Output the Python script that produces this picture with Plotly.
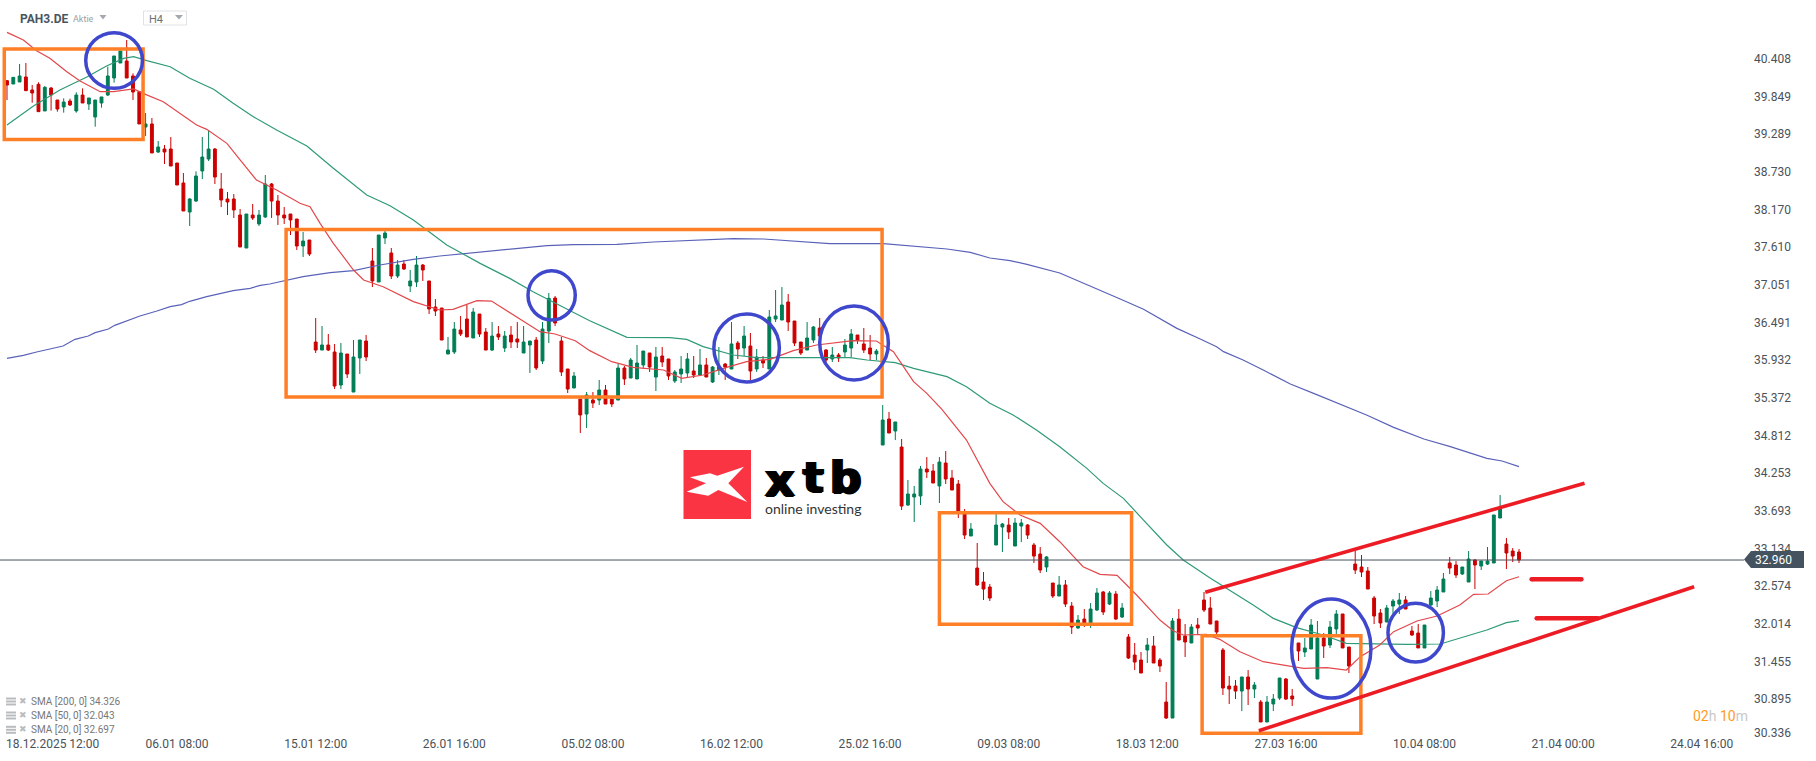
import plotly.graph_objects as go

# ---- candles (bar index = position in these lists) ----
highs = [40.092,40.132,40.33,40.345,40.018,40.058,40.003,39.988,39.795,39.82,
39.815,39.909,39.968,39.825,39.795,39.84,40.29,40.449,40.523,40.687,
40.191,39.919,39.602,39.528,39.186,39.126,39.245,38.859,38.71,38.339,
38.735,39.245,39.349,39.082,38.71,38.428,38.398,38.176,38.101,38.25,
38.161,38.681,38.562,38.383,38.205,38.101,38.027,37.834,37.715,36.556,
36.437,36.318,36.17,36.184,36.021,36.229,36.229,36.303,37.596,37.789,
37.849,37.596,37.418,37.418,37.269,37.477,37.358,37.106,36.838,36.704,
36.274,36.496,36.586,36.749,36.704,36.615,36.407,36.496,36.437,36.363,
36.437,36.496,36.437,36.214,36.274,36.496,36.927,36.883,36.274,35.798,
35.754,35.352,35.456,35.456,35.635,35.56,35.352,35.872,35.843,35.962,
36.155,36.065,36.036,36.125,36.125,35.947,35.783,35.991,36.036,35.991,
36.095,35.962,35.843,36.125,35.887,36.496,36.214,36.437,36.333,36.095,
35.991,36.675,36.972,37.016,36.913,36.511,36.199,36.496,36.437,36.556,
36.095,36.125,36.036,36.244,36.392,36.303,36.407,36.303,36.095,35.263,
35.159,35.011,34.758,34.149,34.06,34.357,34.49,34.386,34.49,34.58,
34.297,34.149,33.718,33.51,33.213,32.782,32.603,33.643,33.51,33.584,
33.584,33.569,33.495,33.213,33.153,33.019,32.618,32.722,32.663,32.336,
32.143,32.232,32.321,32.544,32.499,32.499,32.499,32.321,31.861,31.727,
31.593,31.801,31.831,31.504,31.147,32.098,32.232,32.009,32.009,32.098,
32.485,32.41,32.054,31.653,31.236,31.177,31.222,31.325,31.147,30.88,
30.939,30.969,31.207,31.207,31.043,31.727,31.801,32.083,32.054,31.875,
32.054,32.217,32.158,31.667,33.124,33.034,32.856,32.425,32.232,32.291,
32.381,32.47,32.425,31.979,32.009,31.994,32.499,32.574,32.767,33.005,
32.945,32.856,33.094,32.975,32.945,33.153,33.629,33.926,33.287,33.138,33.124]

lows = [39.795,40.033,40.063,39.934,39.755,39.622,39.632,39.637,39.622,39.607,
39.706,39.607,39.751,39.647,39.399,39.681,39.855,40.053,40.345,40.122,
39.795,39.439,39.26,39.008,39.008,38.844,38.814,38.532,38.146,37.923,
38.28,38.621,38.889,38.547,38.205,38.086,38.042,37.611,37.596,38.012,
37.923,38.042,38.042,37.938,37.953,37.789,37.566,37.462,37.477,36.036,
36.08,36.065,35.501,35.501,35.664,35.456,35.724,35.917,37.016,37.091,
37.655,37.135,37.15,37.269,36.942,37.016,37.106,36.615,36.586,36.229,
36.021,36.021,36.288,36.274,36.259,36.274,36.08,36.065,36.229,36.051,
36.11,36.11,36.036,35.739,35.783,35.872,36.184,36.437,35.694,35.441,
35.516,34.847,34.921,35.219,35.263,35.278,35.233,35.337,35.56,35.664,
35.65,35.798,35.754,35.471,35.828,35.635,35.59,35.59,35.679,35.664,
35.709,35.679,35.59,35.709,35.635,35.798,35.947,35.991,35.635,35.754,
35.813,35.798,36.496,36.526,36.363,36.14,36.006,36.08,36.184,36.11,
35.843,35.902,35.902,35.962,35.976,36.17,36.036,35.932,35.932,34.669,
34.847,34.743,33.703,33.762,33.525,33.777,34.178,34.104,33.807,34.089,
34.0,33.584,33.272,33.317,32.574,32.366,32.351,33.183,33.079,33.272,
33.168,33.227,33.272,32.916,32.767,32.782,32.395,32.425,32.262,31.861,
31.935,31.964,31.95,32.202,32.143,32.291,32.068,32.098,31.489,31.325,
31.281,31.43,31.43,31.296,30.598,30.612,31.771,31.519,31.727,31.861,
32.187,32.009,31.846,30.954,30.821,30.894,30.716,30.805,30.909,30.553,
30.553,30.716,30.88,30.88,30.791,31.459,31.519,31.638,31.192,31.504,
31.653,31.846,31.653,31.281,32.752,32.707,32.529,32.009,31.95,32.039,
32.128,32.158,32.232,31.831,31.653,31.653,32.276,32.262,32.485,32.752,
32.693,32.737,32.633,32.529,32.811,32.886,32.916,33.584,32.826,32.93,32.916]

body_tops = [40.082,40.132,40.152,40.137,39.944,40.028,39.983,39.973,39.795,39.765,
39.78,39.869,39.869,39.825,39.795,39.84,40.152,40.449,40.523,40.375,
40.152,39.919,39.439,39.439,39.097,39.067,39.067,38.859,38.562,38.324,
38.666,38.948,39.067,39.067,38.473,38.324,38.324,38.086,38.101,38.086,
38.086,38.547,38.547,38.294,38.086,38.101,38.027,37.7,37.715,36.199,
36.155,36.155,36.051,36.036,36.021,35.976,36.229,36.214,37.403,37.789,
37.819,37.522,37.343,37.358,37.106,37.343,37.343,37.106,36.719,36.704,
36.08,36.392,36.378,36.541,36.645,36.615,36.348,36.288,36.318,36.288,
36.303,36.244,36.199,36.214,36.229,36.392,36.848,36.853,36.214,35.798,
35.694,35.352,35.412,35.337,35.486,35.486,35.352,35.813,35.813,35.932,
35.887,36.065,36.036,35.976,35.991,35.947,35.754,35.798,35.947,35.768,
35.858,35.858,35.828,35.828,35.872,36.17,36.184,36.288,36.14,35.976,
35.932,36.571,36.586,36.749,36.794,36.511,36.199,36.259,36.422,36.407,
36.08,36.006,36.006,36.155,36.318,36.303,36.17,36.11,36.065,35.04,
35.055,35.011,34.639,33.941,33.941,34.312,34.312,34.283,34.416,34.401,
34.178,34.089,33.673,33.421,32.841,32.633,32.559,33.48,33.495,33.48,
33.51,33.51,33.48,33.183,33.049,33.005,32.618,32.589,32.589,32.276,
32.068,32.083,32.232,32.47,32.485,32.47,32.455,32.247,31.816,31.548,
31.474,31.697,31.682,31.474,30.85,32.054,32.083,31.831,31.964,31.994,
32.366,32.247,32.054,31.623,31.088,31.088,31.222,31.222,31.103,30.85,
30.85,30.894,31.207,31.192,30.939,31.727,31.653,31.994,31.801,31.801,
31.964,32.158,32.158,31.667,32.9,32.856,32.797,32.395,32.173,32.247,
32.351,32.366,32.366,31.905,31.875,31.994,32.395,32.514,32.678,32.916,
32.886,32.856,32.975,32.96,32.945,32.945,33.629,33.733,33.198,33.094,33.079]

body_bottoms = [40.018,40.033,40.063,39.934,39.899,39.622,39.632,39.869,39.661,39.691,
39.721,39.632,39.751,39.736,39.543,39.751,39.869,40.122,40.345,40.122,
39.914,39.439,39.394,39.008,39.022,39.022,38.814,38.532,38.146,38.131,
38.294,38.74,38.918,38.651,38.309,38.28,38.161,37.611,37.596,38.042,
37.953,38.057,38.294,38.086,38.042,38.012,37.626,37.626,37.507,36.08,
36.08,36.08,35.545,35.56,35.724,35.456,35.962,35.976,37.106,37.091,
37.745,37.18,37.18,37.284,37.031,37.091,37.269,36.69,36.66,36.229,
36.021,36.051,36.318,36.274,36.259,36.318,36.08,36.08,36.274,36.11,
36.199,36.199,36.036,36.155,35.813,35.917,36.363,36.482,35.754,35.501,
35.516,35.115,35.129,35.293,35.337,35.278,35.278,35.337,35.65,35.664,
35.65,35.858,35.828,35.679,35.902,35.694,35.62,35.724,35.739,35.709,
35.709,35.679,35.605,35.783,35.828,35.798,36.095,36.11,35.768,35.798,
35.887,35.798,36.541,36.526,36.496,36.184,36.036,36.08,36.229,36.288,
35.932,35.947,35.962,36.051,36.11,36.229,36.08,36.021,36.021,34.669,
34.847,34.877,33.762,33.777,33.896,33.911,34.268,34.104,34.06,34.164,
34.0,33.673,33.331,33.317,32.589,32.529,32.395,33.183,33.45,33.376,
33.168,33.465,33.331,33.019,32.811,32.856,32.425,32.425,32.306,31.964,
31.95,32.009,32.009,32.217,32.187,32.306,32.083,32.113,31.504,31.444,
31.281,31.623,31.43,31.385,30.612,30.612,31.771,31.742,31.727,31.95,
32.217,32.009,31.89,31.058,31.043,31.013,31.013,31.043,31.043,30.553,
30.553,30.821,30.909,30.894,30.894,31.608,31.593,31.638,31.192,31.682,
31.697,31.935,31.653,31.385,32.811,32.782,32.529,32.128,32.024,32.039,
32.276,32.306,32.232,31.846,31.653,31.653,32.291,32.351,32.485,32.841,
32.737,32.752,32.633,32.886,32.871,32.9,32.916,33.584,33.064,33.019,32.96]

direction = ("RGGRRRGRRG" "RGRGGGGGGR" "RRGRGRRRRG" "GGGRRRRRGR" "GGRRRRRGRR"
             "GRRGRGGRRG" "GRGRGGRRRR" "GGRRGRRGRG" "RRGGRGGRRR" "GRGRGRRGRG"
             "GGRGRRGGGR" "GRGGRGRGRG" "RGGGRRRGGR" "RGRGGRRRGG" "RGRGGGRRGR"
             "RRRGRRRGGR" "GGRRRGRGRR" "GRGGRGRGRR" "RGRRRGRRGR" "RRRRRRGRGR"
             "GGGRRRGGGR" "GGRRRRRRRG" "GGRRRGGGGR" "RGGRGGGGRRR")

# ---- moving averages ----
sma20_x = [0,2.6,4.7,6.8,9.5,11.6,14.8,16.9,20.1,21.6,24.8,27.5,30.1,31.7,34.9,37.0,39.6,42.8,46.5,48.1,49.7,51.8,55.0,56.6,59.7,64.5,68.7,70.8,74.6,76.9,80.4,84.6,87.0,90.2,92.5,96.0,99.4,104.2,107.1,110.5,113.7,117.4,121.1,124.8,128.5,134.3,138.0,140.7,143.9,146.0,148.4,152.3,156.0,158.1,160.8,164.0,167.1,170.8,173.5,176.2,179.3,183.0,185.1,186.7,190.4,192.5,195.7,199.4,205.8,209.5,212.6,214.8,217.9,220.1,223.8,227.0,230.6,232.8,235.1,238.0,240]
sma20_y = [40.80,40.687,40.528,40.414,40.216,40.077,39.919,39.919,39.959,39.894,39.77,39.597,39.424,39.359,39.151,38.904,38.606,38.458,38.26,38.21,37.963,37.665,37.269,37.121,37.021,36.799,36.675,36.685,36.813,36.808,36.6,36.353,36.318,36.219,36.071,35.907,35.823,35.783,35.659,35.709,35.808,35.907,35.942,36.071,36.155,36.219,36.214,36.056,35.61,35.436,35.199,34.743,34.099,33.827,33.629,33.505,33.232,32.861,32.747,32.732,32.44,32.068,31.91,31.846,31.856,31.781,31.598,31.449,31.35,31.36,31.325,31.524,31.697,31.895,32.054,32.128,32.291,32.45,32.455,32.653,32.712]
sma50_x = [0,4.2,8.4,12.6,15.8,18.5,20.1,22.2,25.9,29.0,32.8,35.9,39.1,42.8,47.6,51.8,57.1,60.8,64.5,69.8,75.1,79.8,83.5,88.8,92.5,98.4,105.2,107.9,110.5,115.3,119.0,125.3,133.8,136.5,141.0,143.9,149.2,152.3,156.0,159.7,163.4,167.1,171.4,174.0,177.2,180.4,184.1,186.7,190.9,197.8,201.0,204.7,208.9,212.6,216.9,222.2,227.5,230.6,234.9,238.0,240]
sma50_y = [39.424,39.706,39.944,40.132,40.30,40.414,40.439,40.38,40.29,40.117,39.954,39.746,39.547,39.349,39.112,38.78,38.383,38.225,38.012,37.641,37.368,37.145,36.947,36.70,36.516,36.269,36.264,36.239,36.13,36.006,35.966,35.966,35.966,35.932,35.892,35.808,35.684,35.536,35.288,35.115,34.892,34.644,34.322,34.099,33.876,33.554,33.183,32.96,32.698,32.291,32.093,31.955,31.846,31.722,31.712,31.707,31.712,31.796,31.92,32.029,32.059]
sma200_x = [0,2.6,4.7,8.9,10.8,12.9,14.0,16.1,17.1,19.0,21.1,23.8,25.9,27.7,29.0,31.7,33.8,35.9,38.6,40.2,41.7,43.9,47.0,51.3,55.0,59.2,64.5,68.7,75.1,80.4,85.7,89.9,94.1,96.8,102.6,109.5,115.3,120.1,125.3,130.6,139.1,144.9,149.2,152.9,156.0,159.2,161.9,167.1,172.4,176.7,180.4,185.7,189.4,192.0,193.1,196.2,199.4,203.7,207.4,211.1,215.8,220.1,224.9,229.1,234.9,237.3,240]
sma200_y = [35.957,36.001,36.051,36.14,36.239,36.288,36.338,36.392,36.447,36.516,36.586,36.66,36.724,36.754,36.804,36.873,36.913,36.962,36.997,37.041,37.061,37.111,37.17,37.229,37.259,37.343,37.428,37.477,37.537,37.591,37.631,37.646,37.646,37.651,37.685,37.715,37.735,37.73,37.695,37.66,37.66,37.616,37.581,37.532,37.447,37.408,37.353,37.225,37.016,36.838,36.685,36.402,36.244,36.13,36.056,35.932,35.783,35.575,35.436,35.298,35.115,34.931,34.758,34.644,34.471,34.431,34.347]

# ---- axis labels ----
price_ticks = [40.408,39.849,39.289,38.730,38.170,37.610,37.051,36.491,35.932,35.372,34.812,34.253,33.693,33.134,32.574,32.014,31.455,30.895,30.336]
price_tick_pos = price_ticks[:-1] + [30.40]      # the lowest label is nudged up in the original
date_labels = ["18.12.2025 12:00","06.01 08:00","15.01 12:00","26.01 16:00","05.02 08:00","16.02 12:00","25.02 16:00","09.03 08:00","18.03 12:00","27.03 16:00","10.04 08:00","21.04 00:00","24.04 16:00"]
date_pos = [7.25,27,49,71,93,115,137,159,181,203,225,247,269]
legend_rows = ["SMA [200, 0] 34.326","SMA [50, 0] 32.043","SMA [20, 0] 32.697"]
last_price = 32.960

# ---- hand-drawn analysis marks, in bar index / price ----
boxes = [(-0.43,21.6,40.553,39.208),(44.3,138.9,37.871,35.382),(148.0,178.5,33.663,32.005),(189.7,214.9,31.835,30.385)]
rings = [(12.5,21.5,40.795,39.969),(82.7,90.2,37.259,36.526),(112.2,122.6,36.615,35.605),(129.0,139.9,36.734,35.635),(203.9,216.5,32.380,30.909),(219.2,228.0,32.317,31.444)]
channel = [(190.2,32.480,250.4,34.100),(198.7,30.423,267.8,32.563)]
targets = [(242.0,249.9,32.673),(242.8,252.5,32.094)]

# ---- styles ----
W, H, PW, PH = 1816, 761, 1753, 735
RED, GREEN = "#cc0000", "#007d55"
TXT = "#4a5259"
idx = list(range(len(highs)))
opens = [b if d == "G" else t for t, b, d in zip(body_tops, body_bottoms, direction)]
closes = [t if d == "G" else b for t, b, d in zip(body_tops, body_bottoms, direction)]

fig = go.Figure()
fig.add_trace(go.Candlestick(x=idx, open=opens, high=highs, low=lows, close=closes,
    increasing=dict(line=dict(color=GREEN, width=1), fillcolor=GREEN),
    decreasing=dict(line=dict(color=RED, width=1), fillcolor=RED),
    whiskerwidth=0, hoverinfo="skip", showlegend=False))
for xs, ys, col in [(sma200_x, sma200_y, "#5a62b8"), (sma50_x, sma50_y, "#2f9a78"), (sma20_x, sma20_y, "#e2474b")]:
    fig.add_trace(go.Scatter(x=xs, y=ys, mode="lines", line=dict(color=col, width=1.2),
                             hoverinfo="skip", showlegend=False))
fig.add_trace(go.Scatter(x=[-1.2, 275.7], y=[last_price, last_price], mode="lines",
                         line=dict(color="#46525c", width=1), hoverinfo="skip", showlegend=False))
for x0, x1, p in targets:
    fig.add_trace(go.Scatter(x=[x0, x1], y=[p, p], mode="lines+markers",
                             line=dict(color="#ed1c24", width=4.5), marker=dict(color="#ed1c24", size=4.5),
                             hoverinfo="skip", showlegend=False))

shapes = []
for x0, x1, p1, p0 in boxes:
    shapes.append(dict(type="rect", x0=x0, x1=x1, y0=p0, y1=p1, xref="x", yref="y", layer="above",
                       line=dict(color="#ff7f27", width=3.5)))
for x0, x1, p1, p0 in rings:
    shapes.append(dict(type="circle", x0=x0, x1=x1, y0=p0, y1=p1, xref="x", yref="y", layer="above",
                       line=dict(color="#3f48cc", width=3.5)))
for x0, p0, x1, p1 in channel:
    shapes.append(dict(type="line", x0=x0, x1=x1, y0=p0, y1=p1, xref="x", yref="y", layer="above",
                       line=dict(color="#ed1c24", width=3.6)))

def px(x): return x / PW
def py(y): return 1 - y / PH
def poly(pts, fill, line=None, lw=0):
    d = "M" + " L".join(f"{px(a):.5f},{py(b):.5f}" for a, b in pts) + " Z"
    return dict(type="path", path=d, xref="paper", yref="paper", fillcolor=fill, layer="above",
                line=dict(color=line or fill, width=lw))

# xtb logo
shapes.append(poly([(683.5,450),(751,450),(751,519),(683.5,519)], "#fb3444"))
shapes.append(poly([(690,477.3),(710,473.3),(717.3,475.7),(744,466.7),(728.3,483.3),(747.3,502),(718.3,490),(708.3,495.7),(686.7,491.7),(706,483.3)], "#ffffff"))
# header widgets
shapes.append(poly([(99.5,15),(106.5,15),(103,19.5)], "#a3a9ae"))
shapes.append(dict(type="rect", x0=px(143.5), x1=px(186.5), y0=py(11), y1=py(25), xref="paper", yref="paper",
                   layer="above", line=dict(color="#dfe2e4", width=1), fillcolor="rgba(0,0,0,0)"))
shapes.append(poly([(175,15),(183,15),(179,19.5)], "#a3a9ae"))
# price tag
shapes.append(poly([(1744,559.5),(1751,551),(1804,551),(1804,568),(1751,568)], "#44535f"))
# legend icons
for cy in (701, 715, 729.3):
    for dy in (-3.5, -0.5, 2.5):
        shapes.append(poly([(6,cy+dy),(16,cy+dy),(16,cy+dy+2),(6,cy+dy+2)], "#b9bcbf"))

def label(text, x, y, size, color, anchor="left", family="Roboto", **font):
    return dict(text=text, x=px(x), y=py(y), xref="paper", yref="paper", showarrow=False, xanchor=anchor, yanchor="middle",
                font=dict(family=family, size=size, color=color, **font), borderpad=0, borderwidth=0)

HEAVY = "1.4px 0 0 #000,-1.4px 0 0 #000,0 0.5px 0 #000"
ann = [
    label("PAH3.DE", 20, 18.5, 12, "#4a555e", weight=700),
    label("Aktie", 72.5, 19, 9, "#9aa0a5"),
    label("H4", 149, 19.5, 11, "#6a7278"),
    label("32.960", 1774, 560, 12, "#ffffff", anchor="center"),
    label('<span style="color:#ff9a1f">02</span><span style="color:#c8c8c8">h</span> <span style="color:#ff9a1f">10</span><span style="color:#c8c8c8">m</span>', 1693, 716, 14, "#ff9a1f"),
    label("x", 780, 480, 46, "#000000", anchor="center", family="DejaVu Sans", weight=700, shadow=HEAVY),
    label("t", 813, 477, 43, "#000000", anchor="center", family="DejaVu Sans", weight=700, shadow=HEAVY),
    label("b", 846, 477, 44, "#000000", anchor="center", family="DejaVu Sans", weight=700, shadow=HEAVY),
    label("online investing", 812.7, 508, 14, "#333333", anchor="center", family="Lato"),
]
for text, cy in zip(legend_rows, (701, 715, 729.3)):
    ann.append(label("✖", 19, cy, 9, "#b9bcbf", family="DejaVu Sans"))
    ann.append(label(text, 31, cy + 0.5, 10, "#777777"))

fig.update_layout(
    width=W, height=H, margin=dict(l=0, r=W - PW, t=0, b=H - PH), paper_bgcolor="#ffffff", plot_bgcolor="#ffffff",
    boxgap=0.35, shapes=shapes, annotations=ann, hovermode=False, showlegend=False,
    font=dict(family="Roboto", size=12, color=TXT),
    xaxis=dict(range=[-1.11, 277.14], rangeslider=dict(visible=False), tickmode="array", tickvals=date_pos, ticktext=date_labels,
               showgrid=False, zeroline=False, showline=False, ticks="", tickfont=dict(family="Roboto", size=12, color=TXT)),
    yaxis=dict(range=[30.360, 41.281], side="right", tickmode="array", tickvals=price_tick_pos,
               ticktext=[f"{v:.3f}" for v in price_ticks], showgrid=False, zeroline=False, showline=False, ticks="",
               tickfont=dict(family="Roboto", size=12, color=TXT)),
)
fig.write_html("out.html", config=dict(displayModeBar=False),
               post_script="document.body.style.margin='0';document.body.style.overflow='hidden';")
